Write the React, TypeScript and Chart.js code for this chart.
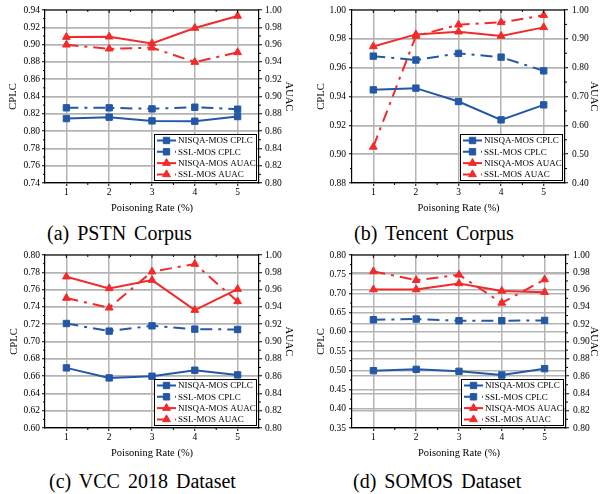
import React, { useEffect, useRef } from 'react';
import { Chart, registerables } from 'chart.js';
Chart.register(...registerables);

const FONT = "'Liberation Serif', 'Times New Roman', serif";
Chart.defaults.font.family = FONT;
Chart.defaults.color = '#000';

// ---------- data ----------
const rates = ['1', '2', '3', '4', '5'];
const seriesNames = ['NISQA-MOS CPLC', 'SSL-MOS CPLC', 'NISQA-MOS AUAC', 'SSL-MOS AUAC'];

// (a) PSTN Corpus
const pstnNisqaCplc = [0.8145, 0.8161, 0.8118, 0.8114, 0.8168];
const pstnSslCplc = [0.8269, 0.8269, 0.8257, 0.8276, 0.8253];
const pstnNisqaAuac = [0.9687, 0.9691, 0.9614, 0.9792, 0.9931];
const pstnSslAuac = [0.9598, 0.9552, 0.9564, 0.9398, 0.951];
const pstnCplcAxis = [0.74, 0.94, 0.02];
const pstnAuacAxis = [0.8, 1.0, 0.02];

// (b) Tencent Corpus
const tencentNisqaCplc = [0.9446, 0.9458, 0.9365, 0.9238, 0.9342];
const tencentSslCplc = [0.968, 0.9653, 0.9699, 0.9673, 0.9578];
const tencentNisqaAuac = [0.8737, 0.9154, 0.9247, 0.9097, 0.9398];
const tencentSslAuac = [0.5251, 0.9097, 0.949, 0.9571, 0.9815];
const tencentCplcAxis = [0.88, 1.0, 0.02];
const tencentAuacAxis = [0.4, 1.0, 0.1];

// (c) VCC 2018 Dataset
const vccNisqaCplc = [0.6695, 0.6579, 0.6598, 0.6668, 0.6614];
const vccSslCplc = [0.7208, 0.712, 0.7181, 0.7143, 0.7139];
const vccNisqaAuac = [0.9749, 0.9614, 0.971, 0.9363, 0.9606];
const vccSslAuac = [0.9502, 0.939, 0.9807, 0.9896, 0.9463];
const vccCplcAxis = [0.6, 0.8, 0.02];
const vccAuacAxis = [0.8, 1.0, 0.02];

// (d) SOMOS Dataset
const somosNisqaCplc = [0.4991, 0.5026, 0.4974, 0.4878, 0.5044];
const somosSslCplc = [0.6317, 0.6334, 0.6291, 0.6291, 0.6299];
const somosNisqaAuac = [0.9601, 0.9601, 0.9671, 0.9585, 0.957];
const somosSslAuac = [0.981, 0.9709, 0.9771, 0.9446, 0.9717];
const somosCplcAxis = [0.35, 0.8, 0.05];
const somosAuacAxis = [0.8, 1.0, 0.02];

// ---------- style ----------
const BLUE = '#2457a6';
const RED = '#f22a2a';
const GRID = '#b4b4b4';
const DASHDOT = [12, 6, 3, 6];

type PanelCfg = {
  caption: string;
  nisqaCplc: number[];
  sslCplc: number[];
  nisqaAuac: number[];
  sslAuac: number[];
  cplcAxis: number[];
  auacAxis: number[];
  left: number;
  top: number;
  leftW: number;
  rightW: number;
  leftTitlePad: number;
  rightTitlePad: number;
  leftTickPad: number;
  rightTickPad: number;
  capLeft: number;
  capTop: number;
};

const panels: PanelCfg[] = [
  {
    caption: '(a) PSTN Corpus',
    nisqaCplc: pstnNisqaCplc, sslCplc: pstnSslCplc, nisqaAuac: pstnNisqaAuac, sslAuac: pstnSslAuac,
    cplcAxis: pstnCplcAxis, auacAxis: pstnAuacAxis,
    left: 0, top: 0, leftW: 45, rightW: 41, leftTitlePad: 7, rightTitlePad: 5, leftTickPad: 2, rightTickPad: 3,
    capLeft: 47, capTop: 223,
  },
  {
    caption: '(b) Tencent Corpus',
    nisqaCplc: tencentNisqaCplc, sslCplc: tencentSslCplc, nisqaAuac: tencentNisqaAuac, sslAuac: tencentSslAuac,
    cplcAxis: tencentCplcAxis, auacAxis: tencentAuacAxis,
    left: 300, top: 0, leftW: 52, rightW: 35, leftTitlePad: 15, rightTitlePad: 0, leftTickPad: 3, rightTickPad: 4,
    capLeft: 354, capTop: 223,
  },
  {
    caption: '(c) VCC 2018 Dataset',
    nisqaCplc: vccNisqaCplc, sslCplc: vccSslCplc, nisqaAuac: vccNisqaAuac, sslAuac: vccSslAuac,
    cplcAxis: vccCplcAxis, auacAxis: vccAuacAxis,
    left: 0, top: 245, leftW: 45, rightW: 41, leftTitlePad: 8, rightTitlePad: 5, leftTickPad: 2, rightTickPad: 3,
    capLeft: 49, capTop: 471,
  },
  {
    caption: '(d) SOMOS Dataset',
    nisqaCplc: somosNisqaCplc, sslCplc: somosSslCplc, nisqaAuac: somosNisqaAuac, sslAuac: somosSslAuac,
    cplcAxis: somosCplcAxis, auacAxis: somosAuacAxis,
    left: 300, top: 245, leftW: 52, rightW: 34, leftTitlePad: 15, rightTitlePad: 0, leftTickPad: 3, rightTickPad: 4,
    capLeft: 353, capTop: 471,
  },
];

// ---------- drawing helpers ----------
function drawMarker(ctx: CanvasRenderingContext2D, style: string, x: number, y: number, r: number, color: string) {
  ctx.save();
  ctx.fillStyle = color;
  ctx.strokeStyle = color;
  ctx.lineWidth = 1;
  ctx.setLineDash([]);
  ctx.beginPath();
  if (style === 'rect') {
    const s = Math.SQRT1_2 * r;
    ctx.rect(x - s, y - s, 2 * s, 2 * s);
  } else {
    ctx.moveTo(x, y - r);
    ctx.lineTo(x + 0.866 * r, y + r / 2);
    ctx.lineTo(x - 0.866 * r, y + r / 2);
    ctx.closePath();
  }
  ctx.fill();
  ctx.stroke();
  ctx.restore();
}

const framePlugin = {
  id: 'frameAndLegend',
  afterDraw(chart: any) {
    const ctx: CanvasRenderingContext2D = chart.ctx;
    const a = chart.chartArea;
    const xs = chart.scales.x;
    const ys = chart.scales.y;
    const y1s = chart.scales.y1;
    ctx.save();
    ctx.strokeStyle = '#000';
    ctx.lineWidth = 1.2;
    ctx.beginPath();
    ctx.moveTo(a.left, a.top);
    ctx.lineTo(a.right, a.top);
    ctx.stroke();
    ctx.lineWidth = 1;
    ctx.beginPath();
    const minor = (scale: any, cb: (p: number) => void) => {
      const t = scale.ticks;
      for (let i = 0; i < t.length - 1; i++) {
        cb(scale.getPixelForValue((t[i].value + t[i + 1].value) / 2));
      }
    };
    minor(ys, (p) => { ctx.moveTo(a.left, p); ctx.lineTo(a.left - 2, p); });
    minor(y1s, (p) => { ctx.moveTo(a.right, p); ctx.lineTo(a.right + 2, p); });
    const n = rates.length;
    for (let i = 0; i < n; i++) {
      const p = xs.getPixelForValue(i);
      ctx.moveTo(p, a.top); ctx.lineTo(p, a.top + 3);
      if (i < n - 1) {
        const m = (p + xs.getPixelForValue(i + 1)) / 2;
        ctx.moveTo(m, a.bottom); ctx.lineTo(m, a.bottom + 2);
        ctx.moveTo(m, a.top); ctx.lineTo(m, a.top + 2);
      }
    }
    ctx.stroke();

    const bw = 102, bh = 46;
    const bx = a.right - 3 - bw;
    const by = a.bottom - 3 - bh;
    ctx.fillStyle = '#fff';
    ctx.fillRect(bx, by, bw, bh);
    ctx.strokeStyle = '#000';
    ctx.lineWidth = 1;
    ctx.strokeRect(bx + 0.5, by + 0.5, bw, bh);
    const rowH = 11.3;
    chart.data.datasets.forEach((ds: any, i: number) => {
      const cy = by + 6.5 + i * rowH;
      ctx.save();
      ctx.strokeStyle = ds.borderColor;
      ctx.lineWidth = 2;
      ctx.setLineDash(ds.borderDash || []);
      ctx.beginPath();
      ctx.moveTo(bx + 3, cy);
      ctx.lineTo(bx + 22, cy);
      ctx.stroke();
      ctx.restore();
      drawMarker(ctx, ds.pointStyle, bx + 12.5, cy, 4.5, ds.borderColor);
      ctx.fillStyle = '#000';
      ctx.font = `9px ${FONT}`;
      ctx.textBaseline = 'middle';
      ctx.textAlign = 'left';
      ctx.fillText(ds.label, bx + 24, cy + 0.5);
    });
    ctx.restore();
  },
};

function Panel({ cfg }: { cfg: PanelCfg }) {
  const ref = useRef<HTMLCanvasElement>(null);
  useEffect(() => {
    const mk = (label: string, data: number[], color: string, dashed: boolean, style: string, axis: string) => ({
      label,
      data,
      yAxisID: axis,
      borderColor: color,
      backgroundColor: color,
      pointBackgroundColor: color,
      pointBorderColor: color,
      borderWidth: 2,
      borderDash: dashed ? DASHDOT : [],
      pointStyle: style,
      pointRadius: 4.5,
      pointBorderWidth: 1,
      tension: 0,
      fill: false,
    });
    const tickFont = { size: 9.5, family: FONT };
    const titleFont = { size: 10.5, family: FONT };
    const chart = new Chart(ref.current as HTMLCanvasElement, {
      type: 'line',
      data: {
        labels: rates,
        datasets: [
          mk(seriesNames[0], cfg.nisqaCplc, BLUE, false, 'rect', 'y'),
          mk(seriesNames[1], cfg.sslCplc, BLUE, true, 'rect', 'y'),
          mk(seriesNames[2], cfg.nisqaAuac, RED, false, 'triangle', 'y1'),
          mk(seriesNames[3], cfg.sslAuac, RED, true, 'triangle', 'y1'),
        ],
      } as any,
      options: {
        responsive: false,
        animation: false,
        devicePixelRatio: 1,
        layout: { padding: { top: 10, left: 0, right: 0, bottom: 0 } },
        plugins: { legend: { display: false }, tooltip: { enabled: false } },
        scales: {
          x: {
            type: 'category',
            offset: true,
            grid: { offset: false, color: GRID, lineWidth: 1.5, drawTicks: true, tickLength: 3, tickColor: '#000', tickWidth: 1 },
            border: { color: '#000', width: 1.2 },
            ticks: { font: tickFont, padding: 1, maxRotation: 0 },
            title: { display: true, text: 'Poisoning Rate (%)', font: titleFont, padding: { top: 0, bottom: 5 } },
            afterFit: (s: any) => { s.height = 37; },
          },
          y: {
            type: 'linear',
            position: 'left',
            min: cfg.cplcAxis[0],
            max: cfg.cplcAxis[1],
            grid: { color: GRID, lineWidth: 1.5, drawTicks: true, tickLength: 3, tickColor: '#000', tickWidth: 1 },
            border: { color: '#000', width: 1.2 },
            ticks: {
              stepSize: cfg.cplcAxis[2],
              autoSkip: false,
              font: tickFont,
              padding: cfg.leftTickPad,
              callback: (v: any) => Number(v).toFixed(2),
            },
            title: { display: true, text: 'CPLC', font: titleFont, padding: { top: cfg.leftTitlePad, bottom: 0 } },
            afterFit: (s: any) => { s.width = cfg.leftW; },
          },
          y1: {
            type: 'linear',
            position: 'right',
            min: cfg.auacAxis[0],
            max: cfg.auacAxis[1],
            grid: { drawOnChartArea: true, color: GRID, lineWidth: 1.5, drawTicks: true, tickLength: 3, tickColor: '#000', tickWidth: 1 },
            border: { color: '#000', width: 1.2 },
            ticks: {
              stepSize: cfg.auacAxis[2],
              autoSkip: false,
              font: tickFont,
              padding: cfg.rightTickPad,
              callback: (v: any) => Number(v).toFixed(2),
            },
            title: { display: true, text: 'AUAC', font: titleFont, padding: { top: cfg.rightTitlePad, bottom: 0 } },
            afterFit: (s: any) => { s.width = cfg.rightW; },
          },
        },
      } as any,
      plugins: [framePlugin],
    });
    let alive = true;
    const fontsApi: any = (document as any).fonts;
    if (fontsApi && fontsApi.load) {
      Promise.all([
        fontsApi.load("9px 'Liberation Serif'"),
        fontsApi.load("10px 'Liberation Serif'"),
      ]).then(() => {
        if (alive) chart.update('none');
      }).catch(() => {});
    }
    return () => {
      alive = false;
      chart.destroy();
    };
  }, [cfg]);
  return (
    <>
      <canvas
        ref={ref}
        width={300}
        height={220}
        style={{ position: 'absolute', left: cfg.left, top: cfg.top, width: 300, height: 220 }}
      />
      <div
        style={{
          position: 'absolute',
          left: cfg.capLeft,
          top: cfg.capTop,
          fontFamily: FONT,
          fontSize: 20,
          lineHeight: 1,
          wordSpacing: 3,
          whiteSpace: 'nowrap',
          color: '#000',
        }}
      >
        {cfg.caption}
      </div>
    </>
  );
}

export default function App() {
  return (
    <div style={{ position: 'absolute', left: 0, top: 0, width: 600, height: 494, background: '#fff', overflow: 'hidden' }}>
      {panels.map((p) => (
        <Panel key={p.caption} cfg={p} />
      ))}
    </div>
  );
}
